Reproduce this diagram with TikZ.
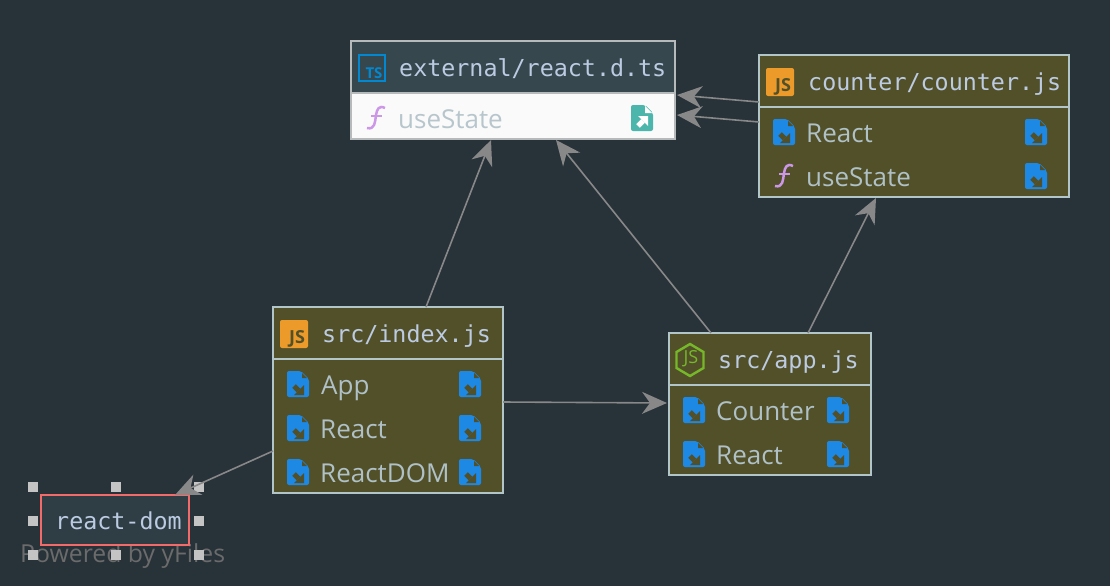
\documentclass[tikz,border=0pt]{standalone}
\usepackage{fontspec}
\setmainfont{Open Sans}
\setmonofont{DejaVu Sans Mono}
\usetikzlibrary{arrows.meta}

\definecolor{bgcol}{HTML}{283239}
\definecolor{olivecol}{HTML}{525029}
\definecolor{framecol}{HTML}{B2C5C9}
\definecolor{extframe}{HTML}{B6BABB}
\definecolor{extcol}{HTML}{36474E}
\definecolor{rdcol}{HTML}{2F3D45}
\definecolor{titlecol}{HTML}{BCCBE2}
\definecolor{rowcol}{HTML}{AFC0C6}
\definecolor{filecol}{HTML}{1E88E5}
\definecolor{exportcol}{HTML}{4DB6AC}
\definecolor{funccol}{HTML}{CB97E6}
\definecolor{jscol}{HTML}{EC9A29}
\definecolor{tscol}{HTML}{0288D1}
\definecolor{nodecol}{HTML}{76B82A}
\definecolor{edgecol}{HTML}{888888}
\definecolor{handlecol}{HTML}{C4C4C4}
\definecolor{markcol}{HTML}{F26A6A}

\tikzset{
  classbox/.style={draw=framecol,fill=olivecol,line width=2pt,outer sep=0pt,inner sep=0pt},
  headbox/.style={classbox,anchor=north},
  title/.style={anchor=base west,inner sep=0pt,text=titlecol,font=\ttfamily\fontsize{23.35}{23.35}\selectfont},
  row/.style={anchor=base west,inner sep=0pt,text=rowcol,font=\fontsize{26}{26}\selectfont},
  handle/.style={fill=handlecol,inner sep=0pt,minimum size=10pt},
  dep/.style={draw=edgecol,line width=1.6pt,-{Stealth[length=25pt,width=22pt,inset=8pt]}},
  pics/fileimport/.style={code={
    \fill[filecol,rounded corners=2pt] (-11,-13) -- (3,-13) -- (11,-5) -- (11,13) -- (-11,13) -- cycle;
    \fill[olivecol] (4,-11) -- (9,-6) -- (4,-6) -- cycle;
    \fill[olivecol] (6,11) -- (6,1) -- (-4,11) -- cycle;
    \draw[olivecol,line width=5pt] (0.5,6.5) -- (-4,2);
  }},
  pics/fileexport/.style={code={
    \fill[exportcol,rounded corners=2pt] (-11,-13) -- (3,-13) -- (11,-5) -- (11,13) -- (-11,13) -- cycle;
    \fill[white] (3,-12) -- (10,-5) -- (3,-5) -- cycle;
    \fill[white] (6,-2) -- (6,8) -- (-4,-2) -- cycle;
    \draw[white,line width=5pt] (1,3) -- (-4,8);
  }},
  pics/funcicon/.style={code={
    \draw[funccol,line width=2.5pt] (9,-10) .. controls (3,-13) and (1,-9) .. (0,-3)
      .. controls (-1,4) and (-1,12) .. (-9,10);
    \draw[funccol,line width=2.2pt] (-5,-2) -- (6,-2);
  }},
  pics/jsicon/.style={code={
    \fill[jscol,rounded corners=2pt] (-14,-14) rectangle (14,14);
    \node[text=olivecol,inner sep=0pt,font=\bfseries\fontsize{18}{18}\selectfont] (-txt) at (3,5) {JS};
  }},
  pics/tsicon/.style={code={
    \draw[tscol,line width=1.6pt] (-13,-13) rectangle (13,13);
    \node[text=tscol,inner sep=0pt,font=\bfseries\fontsize{15}{15}\selectfont] (-txt) at (2,5) {TS};
  }},
  pics/nodeicon/.style={code={
    \draw[nodecol,line width=2.4pt] (0,-16) -- (13.5,-8) -- (13.5,8) -- (0,16) -- (-13.5,8) -- (-13.5,-8) -- cycle;
    \node[text=nodecol,inner sep=0pt,font=\fontsize{18}{18}\selectfont] (-txt) at (1,-1) {JS};
  }},
}

\begin{document}
\begin{tikzpicture}[x=1pt,y=-1pt]
    \fill[bgcol] (0,0) rectangle (1110,586);
    \useasboundingbox (0,0) rectangle (1110,586);

    % external
    \node[classbox,draw=extframe,fill=white!98!black,minimum width=324pt,minimum height=98pt] (ext) at (513,90) {};
    \node[headbox,draw=extframe,fill=extcol,minimum width=324pt,minimum height=52pt] (extHead) at (ext.north) {};
    \pic (extIcon) at (372,68) {tsicon};
    \node[title] (extTitle) at (399,76) {external/react.d.ts};
    \pic (extF) at (376,118) {funcicon};
    \node[row,text=rowcol!90!white] (extUse) at (398,128) {useState};
    \pic (extUseOut) at (642,118) {fileexport};

    % counter
    \node[classbox,minimum width=310pt,minimum height=142pt] (cnt) at (914,126) {};
    \node[headbox,minimum width=310pt,minimum height=52pt] (cntHead) at (cnt.north) {};
    \pic (cntIcon) at (780,82) {jsicon};
    \node[title] (cntTitle) at (808,90) {counter/counter.js};
    \pic (cntReactIn) at (784,132) {fileimport};
    \node[row] (cntReact) at (806,142) {React};
    \pic (cntReactOut) at (1036,132) {fileimport};
    \pic (cntF) at (784,176) {funcicon};
    \node[row] (cntUse) at (806,186) {useState};
    \pic (cntUseOut) at (1036,176) {fileimport};

    % index
    \node[classbox,minimum width=230pt,minimum height=186pt] (idx) at (388,400) {};
    \node[headbox,minimum width=230pt,minimum height=52pt] (idxHead) at (idx.north) {};
    \pic (idxIcon) at (294,334) {jsicon};
    \node[title] (idxTitle) at (322,342) {src/index.js};
    \pic (idxAppIn) at (298,384) {fileimport};
    \node[row] (idxApp) at (321,394) {App};
    \pic (idxAppOut) at (470,384) {fileimport};
    \pic (idxReactIn) at (298,428) {fileimport};
    \node[row] (idxReact) at (320,438) {React};
    \pic (idxReactOut) at (470,428) {fileimport};
    \pic (idxDomIn) at (298,472) {fileimport};
    \node[row] (idxDom) at (320,482) {ReactDOM};
    \pic (idxDomOut) at (470,472) {fileimport};

    % app
    \node[classbox,minimum width=202pt,minimum height=142pt] (app) at (770,404) {};
    \node[headbox,minimum width=202pt,minimum height=52pt] (appHead) at (app.north) {};
    \pic (appIcon) at (690,360) {nodeicon};
    \node[title] (appTitle) at (718,368) {src/app.js};
    \pic (appCntIn) at (694,410) {fileimport};
    \node[row] (appCnt) at (716,420) {Counter};
    \pic (appCntOut) at (838,410) {fileimport};
    \pic (appReactIn) at (694,454) {fileimport};
    \node[row] (appReact) at (716,464) {React};
    \pic (appReactOut) at (838,454) {fileimport};

    % react-dom with its handles
    \node[anchor=base west,inner sep=0pt,text=black!58,font=\fontsize{24.8}{24.8}\selectfont] (yfiles) at (20,562) {Powered by yFiles};
    \node[classbox,draw=markcol,fill=rdcol,minimum width=148pt,minimum height=50pt] (rd) at (115,520) {};
    \node[title] (rdTitle) at (55,529) {react-dom};
    \node[handle] (h1) at (33,487) {};
    \node[handle] (h2) at (116,487) {};
    \node[handle] (h3) at (199,487) {};
    \node[handle] (h4) at (33,521) {};
    \node[handle] (h5) at (199,521) {};
    \node[handle] (h6) at (33,555) {};
    \node[handle] (h7) at (116,555) {};
    \node[handle] (h8) at (199,555) {};

    \draw[dep] ([xshift=38pt]idx.north) -- ([xshift=-22pt,yshift=-1pt]ext.south);
    \draw[dep] ([xshift=-59pt]app.north) -- ([xshift=43pt,yshift=-1pt]ext.south);
    \draw[dep] ([xshift=38pt]app.north) -- ([xshift=-38pt,yshift=-1pt]cnt.south);
    \draw[dep] ([yshift=24pt]cnt.west) -- ([xshift=2pt,yshift=-5pt]ext.east);
    \draw[dep] ([yshift=4pt]cnt.west) -- ([xshift=2pt,yshift=-25pt]ext.east);
    \draw[dep] ([yshift=-2pt]idx.east) -- ([xshift=-2pt,yshift=1pt]app.west);
    \draw[dep] ([yshift=-51pt]idx.west) -- ([xshift=60pt]rd.north);
\end{tikzpicture}
\end{document}
